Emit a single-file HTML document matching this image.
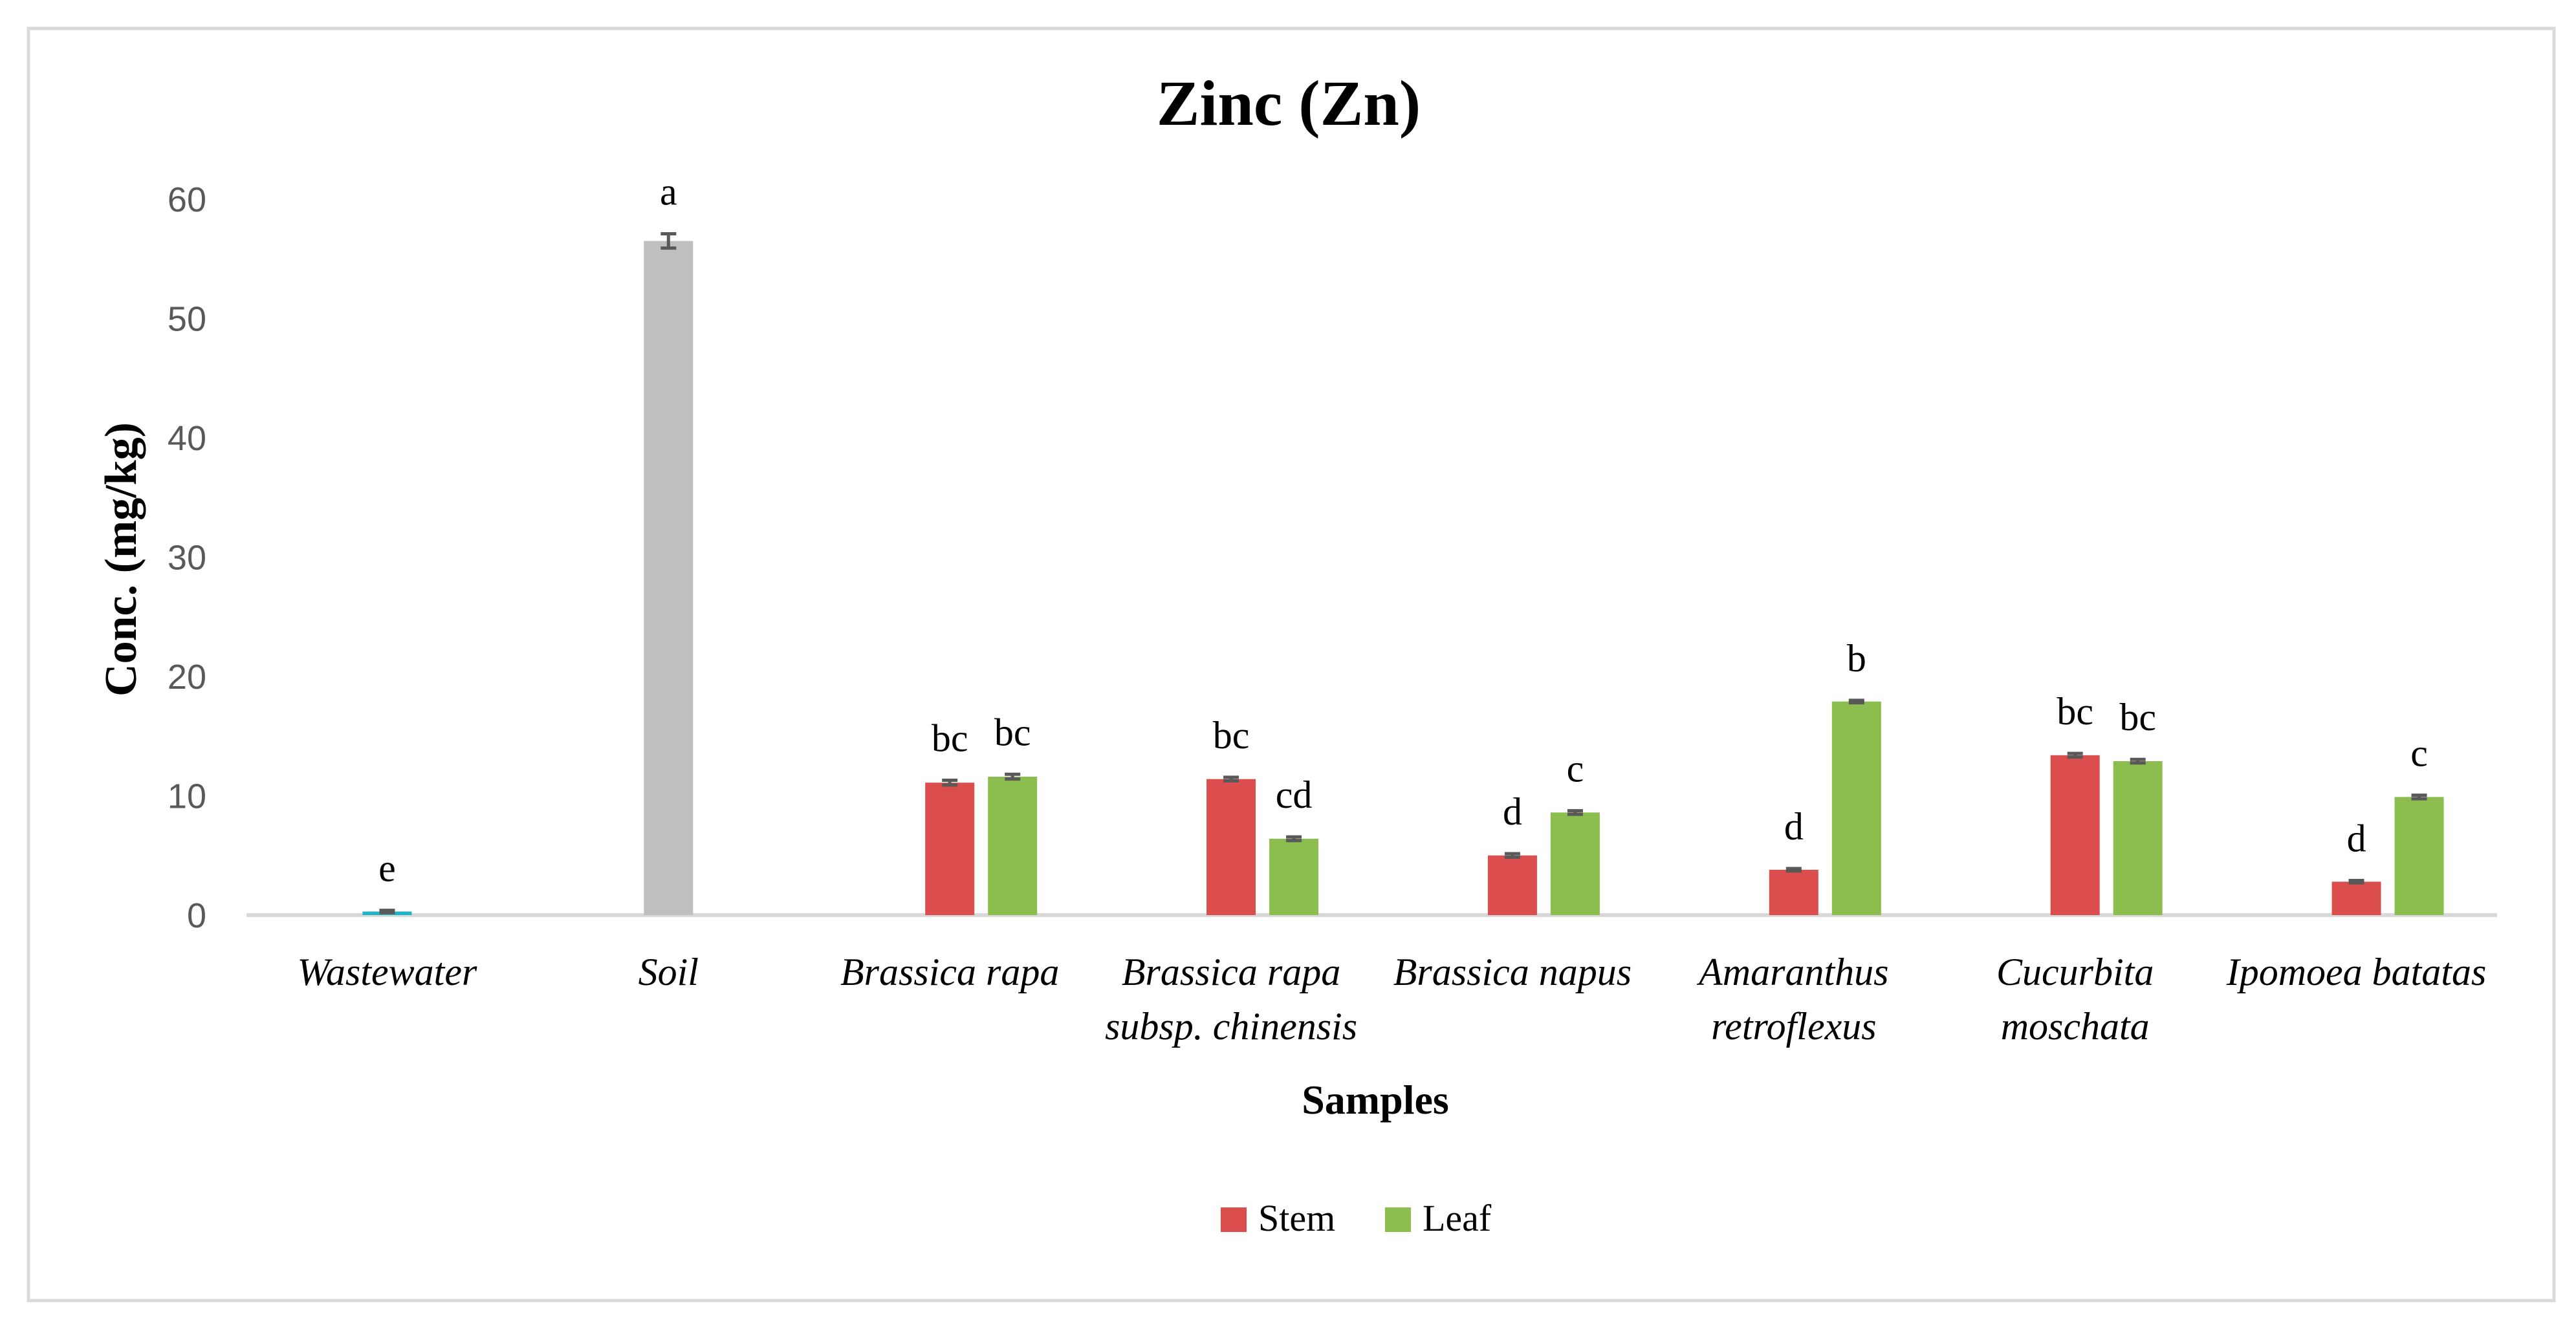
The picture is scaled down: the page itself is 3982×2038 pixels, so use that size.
<!DOCTYPE html>
<html><head><meta charset="utf-8">
<style>
html,body{margin:0;padding:0;background:#fff;}
svg{display:block;}
.serif{font-family:"Liberation Serif",serif;}
.sans{font-family:"Liberation Sans",sans-serif;}
</style></head>
<body>
<svg id="chart" width="3982" height="2038" viewBox="0 0 3982 2038" xmlns="http://www.w3.org/2000/svg">
<rect x="0" y="0" width="3982" height="2038" fill="#fff"/>
<rect x="44" y="44" width="3904" height="1967" fill="none" stroke="#d9d9d9" stroke-width="5"/>
<text x="1992" y="193" text-anchor="middle" class="serif" font-weight="bold" font-size="100" fill="#000">Zinc (Zn)</text>
<text transform="translate(210,865) rotate(-90)" text-anchor="middle" class="serif" font-weight="bold" font-size="70" fill="#000">Conc. (mg/kg)</text>
<text x="2126" y="1722" text-anchor="middle" class="serif" font-weight="bold" font-size="64" fill="#000">Samples</text>
<g id="grid"></g>
<g id="bars"></g>
<g id="labels"></g>
<g>
<rect x="1887" y="1867" width="40" height="38" fill="#dc4e4e"/>
<text x="1945" y="1903" class="serif" font-size="58" fill="#000">Stem</text>
<rect x="2141" y="1867" width="40" height="38" fill="#8cbd4f"/>
<text x="2199" y="1903" class="serif" font-size="58" fill="#000">Leaf</text>
</g>
</svg>
<script>
const categories = ["Wastewater","Soil","Brassica rapa","Brassica rapa|subsp. chinensis","Brassica napus","Amaranthus|retroflexus","Cucurbita|moschata","Ipomoea batatas"];
const singleValues = [0.3, 56.5, null, null, null, null, null, null];
const singleErr = [0.1, 0.6, null, null, null, null, null, null];
const singleLetters = ["e","a","","","","","",""];
const stemValues = [null, null, 11.1, 11.4, 5.0, 3.8, 13.4, 2.8];
const stemErr = [null, null, 0.2, 0.15, 0.15, 0.1, 0.15, 0.1];
const stemLetters = ["","","bc","bc","d","d","bc","d"];
const leafValues = [null, null, 11.6, 6.4, 8.6, 17.9, 12.9, 9.9];
const leafErr = [null, null, 0.2, 0.15, 0.15, 0.1, 0.15, 0.15];
const leafLetters = ["","","bc","cd","c","b","bc","c"];
const yTicks = [0,10,20,30,40,50,60];

const NS = "http://www.w3.org/2000/svg";
const X0 = 381, X1 = 3860, Y0 = 1415, Ytop = 308, YMAX = 60;
const band = (X1 - X0) / categories.length;
const xc = i => X0 + band * (i + 0.5);
const y = v => Y0 - (v / YMAX) * (Y0 - Ytop);
const BW = 76, GAP = 21;
function mk(tag, attrs, parent){ const e=document.createElementNS(NS,tag); for(const k in attrs) e.setAttribute(k,attrs[k]); parent.appendChild(e); return e; }
const grid = document.getElementById('grid'), bars = document.getElementById('bars'), labels = document.getElementById('labels');

yTicks.forEach(t => {
  const el = mk('text',{x:319,y:y(t)+19,'text-anchor':'end','font-size':54,fill:'#595959','class':'sans'},grid);
  el.textContent = t;
  
  
});
const ax = mk('line',{x1:X0,x2:X1,y1:Y0,y2:Y0,stroke:'#d9d9d9','stroke-width':6},grid);



categories.forEach((c,i) => {
  const lines = c.split('|');
  lines.forEach((ln,j) => {
    const t = mk('text',{x:xc(i),y:1523+j*84,'text-anchor':'middle','font-size':60,'font-style':'italic','class':'serif',fill:'#000'},labels);
    t.textContent = ln;
    
    
  });
});

function drawBar(cx, v, err, color, letter, name){
  const top = y(v);
  const r = mk('rect',{x:cx-BW/2,y:top,width:BW,height:Y0-top,fill:color},bars);
  
  
  const eTop = y(v+err), eBot = y(v-err);
  const g = mk('g',{stroke:'#595959','stroke-width':5},bars);
  
  
  mk('line',{x1:cx,x2:cx,y1:eTop,y2:eBot},g);
  mk('line',{x1:cx-12,x2:cx+12,y1:eTop,y2:eTop},g);
  mk('line',{x1:cx-12,x2:cx+12,y1:eBot,y2:eBot},g);
  if(letter){
    const t = mk('text',{x:cx,y:eTop-45,'text-anchor':'middle','font-size':60,'class':'serif',fill:'#000'},labels);
    t.textContent = letter;
    
    
  }
}
categories.forEach((c,i) => {
  if(singleValues[i]!=null){
    const col = i===0 ? '#1fb5c9' : '#bfbfbf';
    drawBar(xc(i), singleValues[i], singleErr[i], col, singleLetters[i], 'bar-'+(i===0?'wastewater':'soil'));
  }
  if(stemValues[i]!=null) drawBar(xc(i), stemValues[i], stemErr[i], '#dc4e4e', stemLetters[i], 'bar-stem');
  if(leafValues[i]!=null) drawBar(xc(i)+BW+GAP, leafValues[i], leafErr[i], '#8cbd4f', leafLetters[i], 'bar-leaf');
});
</script>
</body></html>
